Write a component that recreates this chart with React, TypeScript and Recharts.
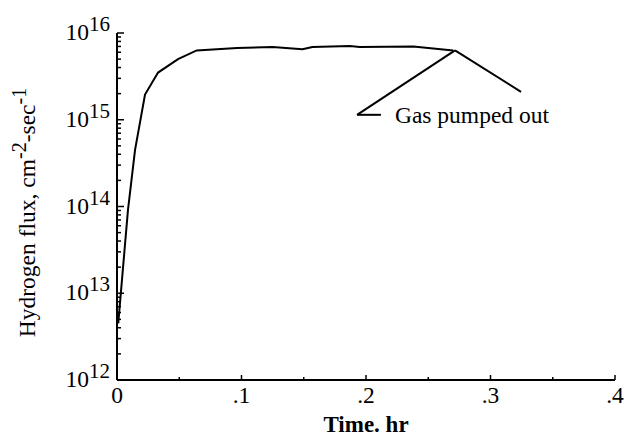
import React from "react";
import {
  LineChart,
  Line,
  XAxis,
  YAxis,
  ReferenceLine,
} from "recharts";

// time (hr) vs hydrogen flux (cm^-2 sec^-1)
const timeHr = [
  0.001, 0.0088, 0.0145, 0.0225, 0.033, 0.049, 0.064, 0.0964, 0.125, 0.149,
  0.157, 0.187, 0.195, 0.238, 0.27,
];
const flux = [
  4.5e12, 9.1e13, 4.5e14, 1.95e15, 3.5e15, 5.0e15, 6.3e15, 6.7e15, 6.9e15,
  6.5e15, 6.9e15, 7.1e15, 6.9e15, 7.0e15, 6.3e15,
];

const xTicks = [0, 0.05, 0.1, 0.15, 0.2, 0.25, 0.3, 0.35, 0.4];
const xTickLabels = ["0", "", ".1", "", ".2", "", ".3", "", ".4"];
const yDecades = [1e12, 1e13, 1e14, 1e15, 1e16];
const yMinorSteps = [2, 3, 4, 5, 6, 7, 8, 9];

// annotation "Gas pumped out" leader lines (data coords)
const notePoint = { x: 0.2715, y: 6.3e15 };
const noteLeft = { x: 0.1928, y: 1.14e15 };
const noteLeftTail = { x: 0.212, y: 1.14e15 };
const noteRight = { x: 0.3245, y: 2.1e15 };
const noteText = "Gas pumped out";

const data = timeHr.map((t, i) => ({ t, flux: flux[i] }));

const yTicks: number[] = [];
yDecades.forEach((d, i) => {
  yTicks.push(d);
  if (i < yDecades.length - 1) yMinorSteps.forEach((m) => yTicks.push(m * d));
});

const FONT = "'Liberation Serif', 'Times New Roman', serif";
const FS = 23.5;
const SUP = 21;

function YTick(props: any) {
  const { x, y, payload } = props;
  const v = payload.value as number;
  const exp = Math.round(Math.log10(v));
  const major = Math.abs(v - Math.pow(10, exp)) < v * 1e-6;
  return (
    <g>
      <line x1={x} x2={x + (major ? 7 : 4)} y1={y} y2={y} stroke="#000" strokeWidth={1.5} />
      {major && (
        <text x={x - 7} y={y + 7} textAnchor="end" fontFamily={FONT} fontSize={FS} fill="#000">
          10
          <tspan dy={-9} fontSize={SUP}>
            {exp}
          </tspan>
        </text>
      )}
    </g>
  );
}

function XTick(props: any) {
  const { x, y, index } = props;
  const label = xTickLabels[index] ?? "";
  const major = label !== "";
  return (
    <g>
      <line x1={x} x2={x} y1={y} y2={y - (major ? 5 : 3)} stroke="#000" strokeWidth={1.5} />
      {major && (
        <text x={x} y={y + 23} textAnchor="middle" fontFamily={FONT} fontSize={FS} fill="#000">
          {label}
        </text>
      )}
    </g>
  );
}

function YTitle(props: any) {
  const vb = props.viewBox ?? { x: 0, y: 33, width: 117, height: 347 };
  const cx = vb.x + 35;
  const cy = vb.y + vb.height / 2 + 6;
  return (
    <text
      x={cx}
      y={cy}
      transform={`rotate(-90 ${cx} ${cy})`}
      textAnchor="middle"
      fontFamily={FONT}
      fontSize={FS}
      fill="#000"
    >
      Hydrogen flux, cm
      <tspan dy={-9} fontSize={SUP - 1}>-2</tspan>
      <tspan dy={9}>-sec</tspan>
      <tspan dy={-9} fontSize={SUP - 1}>-1</tspan>
    </text>
  );
}

function XTitle(props: any) {
  const vb = props.viewBox ?? { x: 117, y: 380, width: 498, height: 56 };
  return (
    <text
      x={vb.x + vb.width / 2}
      y={vb.y + 52}
      textAnchor="middle"
      fontFamily={FONT}
      fontSize={23}
      fontWeight="bold"
      fill="#000"
    >
      Time. hr
    </text>
  );
}

export default function App() {
  return (
    <div style={{ position: "absolute", left: 0, top: 0, background: "#fff" }}>
      <LineChart
        width={624}
        height={436}
        data={data}
        margin={{ top: 33, right: 9, bottom: 0, left: 0 }}
      >
        <XAxis
          dataKey="t"
          type="number"
          domain={[0, 0.4]}
          ticks={xTicks}
          interval={0}
          height={56}
          tickSize={0}
          tickMargin={0}
          tickLine={false}
          axisLine={{ stroke: "#000", strokeWidth: 2 }}
          tick={<XTick />}
          label={<XTitle />}
        />
        <YAxis
          type="number"
          scale="log"
          domain={[1e12, 1e16]}
          allowDataOverflow
          ticks={yTicks}
          interval={0}
          width={117}
          tickSize={0}
          tickMargin={0}
          tickLine={false}
          axisLine={{ stroke: "#000", strokeWidth: 2 }}
          tick={<YTick />}
          label={<YTitle />}
        />
        <Line
          type="linear"
          dataKey="flux"
          stroke="#000"
          strokeWidth={2}
          dot={false}
          isAnimationActive={false}
        />
        <ReferenceLine
          segment={[notePoint, noteLeft]}
          stroke="#000"
          strokeWidth={2}
          ifOverflow="visible"
        />
        <ReferenceLine
          segment={[noteLeft, noteLeftTail]}
          stroke="#000"
          strokeWidth={2}
          ifOverflow="visible"
          label={{
            value: noteText,
            position: "right",
            offset: 14,
            fill: "#000",
            fontSize: FS,
            fontFamily: FONT,
          }}
        />
        <ReferenceLine
          segment={[notePoint, noteRight]}
          stroke="#000"
          strokeWidth={2}
          ifOverflow="visible"
        />
      </LineChart>
    </div>
  );
}
